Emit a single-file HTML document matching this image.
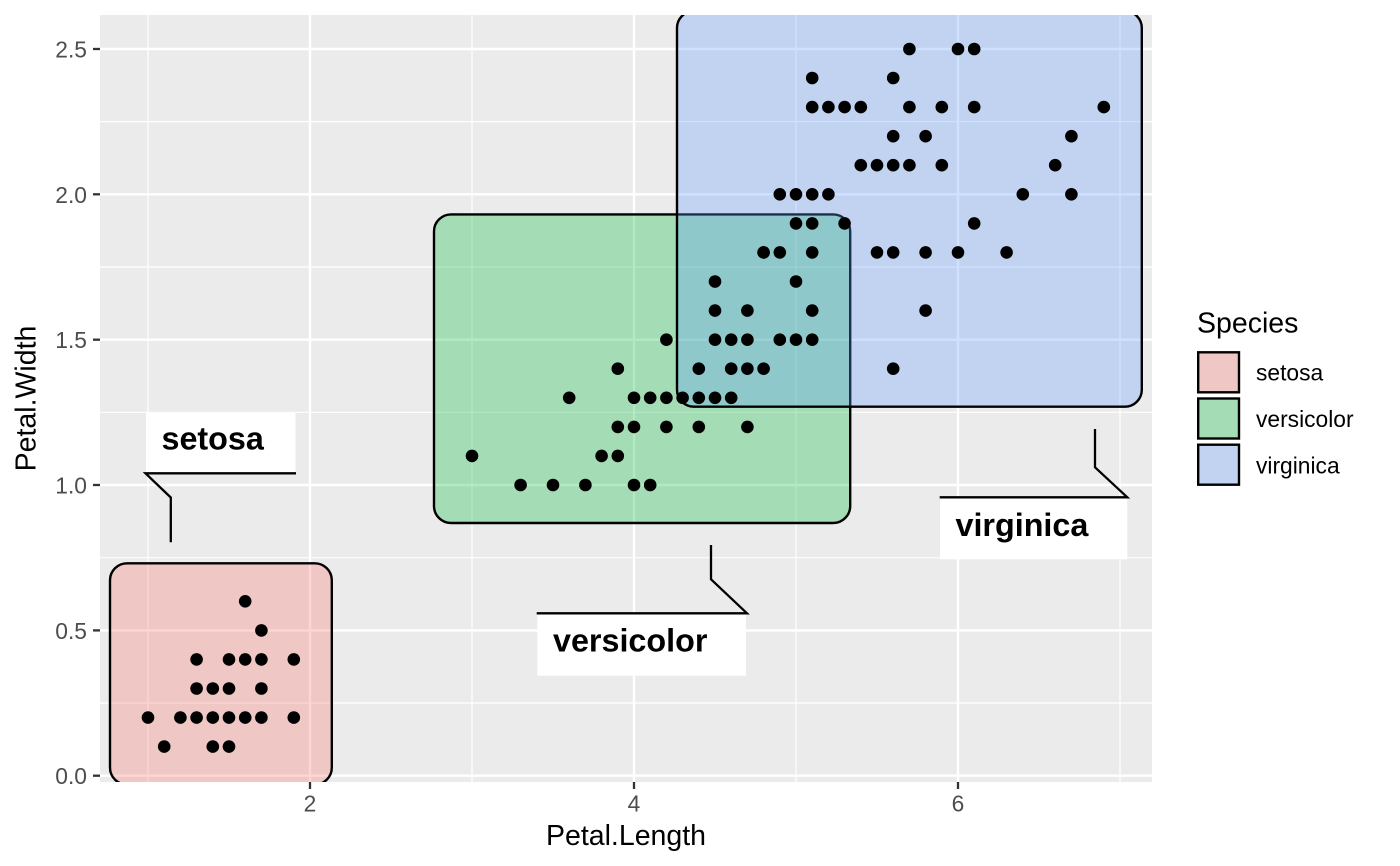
<!DOCTYPE html>
<html>
<head>
<meta charset="utf-8">
<style>
html,body{margin:0;padding:0;background:#fff;}
svg{display:block;}
text{font-family:"Liberation Sans",Arial,sans-serif;}
</style>
</head>
<body>
<svg width="1400" height="866" viewBox="0 0 1400 866" xmlns="http://www.w3.org/2000/svg">
<defs>
<clipPath id="pc"><rect x="100" y="15" width="1052" height="767"/></clipPath>
</defs>
<rect x="0" y="0" width="1400" height="866" fill="#ffffff"/>
<!-- panel -->
<rect x="100" y="15" width="1052" height="767" fill="#EBEBEB"/>
<g stroke="#ffffff" fill="none">
  <g stroke-width="1.2">
    <line x1="148" y1="15" x2="148" y2="782"/>
    <line x1="472" y1="15" x2="472" y2="782"/>
    <line x1="796" y1="15" x2="796" y2="782"/>
    <line x1="1120" y1="15" x2="1120" y2="782"/>
    <line x1="100" y1="703" x2="1152" y2="703"/>
    <line x1="100" y1="557.7" x2="1152" y2="557.7"/>
    <line x1="100" y1="412.3" x2="1152" y2="412.3"/>
    <line x1="100" y1="267" x2="1152" y2="267"/>
    <line x1="100" y1="121.6" x2="1152" y2="121.6"/>
  </g>
  <g stroke-width="2.4">
    <line x1="310" y1="15" x2="310" y2="782"/>
    <line x1="634" y1="15" x2="634" y2="782"/>
    <line x1="958" y1="15" x2="958" y2="782"/>
    <line x1="100" y1="775.7" x2="1152" y2="775.7"/>
    <line x1="100" y1="630.4" x2="1152" y2="630.4"/>
    <line x1="100" y1="485" x2="1152" y2="485"/>
    <line x1="100" y1="339.7" x2="1152" y2="339.7"/>
    <line x1="100" y1="194.3" x2="1152" y2="194.3"/>
    <line x1="100" y1="49" x2="1152" y2="49"/>
  </g>
</g>
<g clip-path="url(#pc)" stroke="#000" stroke-width="2.4">
  <rect x="110" y="563.3" width="221.8" height="221.3" rx="17" ry="17" fill="rgba(248,118,109,0.3)"/>
  <rect x="434" y="214.4" width="416.2" height="308.6" rx="17" ry="17" fill="rgba(0,186,56,0.3)"/>
  <rect x="677" y="11" width="464.8" height="395.7" rx="17" ry="17" fill="rgba(97,156,255,0.3)"/>
</g>
<!-- points -->
<g fill="#000">
<!-- setosa -->
<circle cx="212.8" cy="717.6" r="6.3"/><circle cx="196.6" cy="717.6" r="6.3"/><circle cx="229" cy="717.6" r="6.3"/>
<circle cx="261.4" cy="659.4" r="6.3"/><circle cx="212.8" cy="688.5" r="6.3"/><circle cx="229" cy="746.6" r="6.3"/>
<circle cx="245.2" cy="717.6" r="6.3"/><circle cx="212.8" cy="746.6" r="6.3"/><circle cx="164.2" cy="746.6" r="6.3"/>
<circle cx="180.4" cy="717.6" r="6.3"/><circle cx="229" cy="659.4" r="6.3"/><circle cx="196.6" cy="659.4" r="6.3"/>
<circle cx="261.4" cy="688.5" r="6.3"/><circle cx="229" cy="688.5" r="6.3"/><circle cx="261.4" cy="717.6" r="6.3"/>
<circle cx="148" cy="717.6" r="6.3"/><circle cx="261.4" cy="630.4" r="6.3"/><circle cx="293.8" cy="717.6" r="6.3"/>
<circle cx="245.2" cy="659.4" r="6.3"/><circle cx="196.6" cy="688.5" r="6.3"/><circle cx="245.2" cy="601.3" r="6.3"/>
<circle cx="293.8" cy="659.4" r="6.3"/>
<!-- versicolor -->
<circle cx="747.4" cy="368.7" r="6.3"/><circle cx="715" cy="339.7" r="6.3"/><circle cx="779.8" cy="339.7" r="6.3"/>
<circle cx="634" cy="397.8" r="6.3"/><circle cx="731.2" cy="339.7" r="6.3"/><circle cx="715" cy="397.8" r="6.3"/>
<circle cx="747.4" cy="310.6" r="6.3"/><circle cx="520.6" cy="485" r="6.3"/><circle cx="731.2" cy="397.8" r="6.3"/>
<circle cx="617.8" cy="368.7" r="6.3"/><circle cx="553" cy="485" r="6.3"/><circle cx="666.4" cy="339.7" r="6.3"/>
<circle cx="634" cy="485" r="6.3"/><circle cx="569.2" cy="397.8" r="6.3"/><circle cx="698.8" cy="368.7" r="6.3"/>
<circle cx="650.2" cy="485" r="6.3"/><circle cx="617.8" cy="455.9" r="6.3"/><circle cx="763.6" cy="252.4" r="6.3"/>
<circle cx="747.4" cy="426.9" r="6.3"/><circle cx="682.6" cy="397.8" r="6.3"/><circle cx="763.6" cy="368.7" r="6.3"/>
<circle cx="796" cy="281.5" r="6.3"/><circle cx="601.6" cy="455.9" r="6.3"/><circle cx="585.4" cy="485" r="6.3"/>
<circle cx="617.8" cy="426.9" r="6.3"/><circle cx="812.2" cy="310.6" r="6.3"/><circle cx="715" cy="310.6" r="6.3"/>
<circle cx="747.4" cy="339.7" r="6.3"/><circle cx="698.8" cy="397.8" r="6.3"/><circle cx="650.2" cy="397.8" r="6.3"/>
<circle cx="698.8" cy="426.9" r="6.3"/><circle cx="731.2" cy="368.7" r="6.3"/><circle cx="634" cy="426.9" r="6.3"/>
<circle cx="666.4" cy="397.8" r="6.3"/><circle cx="666.4" cy="426.9" r="6.3"/><circle cx="472" cy="455.9" r="6.3"/>
<!-- virginica -->
<circle cx="958" cy="49" r="6.3"/><circle cx="812.2" cy="223.4" r="6.3"/><circle cx="941.8" cy="165.2" r="6.3"/>
<circle cx="893.2" cy="252.4" r="6.3"/><circle cx="925.6" cy="136.2" r="6.3"/><circle cx="1055.2" cy="165.2" r="6.3"/>
<circle cx="715" cy="281.5" r="6.3"/><circle cx="1006.6" cy="252.4" r="6.3"/><circle cx="925.6" cy="252.4" r="6.3"/>
<circle cx="974.2" cy="49" r="6.3"/><circle cx="812.2" cy="194.3" r="6.3"/><circle cx="844.6" cy="223.4" r="6.3"/>
<circle cx="877" cy="165.2" r="6.3"/><circle cx="796" cy="194.3" r="6.3"/><circle cx="812.2" cy="78" r="6.3"/>
<circle cx="844.6" cy="107.1" r="6.3"/><circle cx="877" cy="252.4" r="6.3"/><circle cx="1071.4" cy="136.2" r="6.3"/>
<circle cx="1103.8" cy="107.1" r="6.3"/><circle cx="796" cy="339.7" r="6.3"/><circle cx="909.4" cy="107.1" r="6.3"/>
<circle cx="779.8" cy="194.3" r="6.3"/><circle cx="1071.4" cy="194.3" r="6.3"/><circle cx="779.8" cy="252.4" r="6.3"/>
<circle cx="909.4" cy="165.2" r="6.3"/><circle cx="958" cy="252.4" r="6.3"/><circle cx="763.6" cy="252.4" r="6.3"/>
<circle cx="893.2" cy="165.2" r="6.3"/><circle cx="925.6" cy="310.6" r="6.3"/><circle cx="974.2" cy="223.4" r="6.3"/>
<circle cx="1022.8" cy="194.3" r="6.3"/><circle cx="893.2" cy="136.2" r="6.3"/><circle cx="812.2" cy="339.7" r="6.3"/>
<circle cx="893.2" cy="368.7" r="6.3"/><circle cx="974.2" cy="107.1" r="6.3"/><circle cx="893.2" cy="78" r="6.3"/>
<circle cx="860.8" cy="165.2" r="6.3"/><circle cx="828.4" cy="107.1" r="6.3"/><circle cx="941.8" cy="107.1" r="6.3"/>
<circle cx="909.4" cy="49" r="6.3"/><circle cx="860.8" cy="107.1" r="6.3"/><circle cx="796" cy="223.4" r="6.3"/>
<circle cx="828.4" cy="194.3" r="6.3"/><circle cx="812.2" cy="252.4" r="6.3"/><circle cx="812.2" cy="107.1" r="6.3"/>
</g>
<!-- labels -->
<g>
  <rect x="146" y="413" width="149.5" height="60" fill="#ffffff"/>
  <text x="161.5" y="449.3" font-size="32.3" font-weight="bold" fill="#000">setosa</text>
  <polyline points="296,473.3 145.5,473.3 170.8,497.5 170.8,542.3" fill="none" stroke="#000" stroke-width="2.3"/>

  <rect x="537.3" y="613.3" width="208.7" height="62.4" fill="#ffffff"/>
  <text x="553" y="651.7" font-size="32.3" font-weight="bold" fill="#000">versicolor</text>
  <polyline points="536.7,613.3 747,613.3 711,579.3 711,545" fill="none" stroke="#000" stroke-width="2.3"/>

  <rect x="940" y="497.3" width="187.3" height="62" fill="#ffffff"/>
  <text x="955.5" y="536" font-size="32.3" font-weight="bold" fill="#000">virginica</text>
  <polyline points="939.7,497.3 1127.3,497.3 1095,467.3 1095,429" fill="none" stroke="#000" stroke-width="2.3"/>
</g>
<!-- axes ticks -->
<g stroke="#333333" stroke-width="2.3">
  <line x1="93" y1="775.7" x2="100" y2="775.7"/>
  <line x1="93" y1="630.4" x2="100" y2="630.4"/>
  <line x1="93" y1="485" x2="100" y2="485"/>
  <line x1="93" y1="339.7" x2="100" y2="339.7"/>
  <line x1="93" y1="194.3" x2="100" y2="194.3"/>
  <line x1="93" y1="49" x2="100" y2="49"/>
  <line x1="310" y1="782" x2="310" y2="789"/>
  <line x1="634" y1="782" x2="634" y2="789"/>
  <line x1="958" y1="782" x2="958" y2="789"/>
</g>
<g font-size="22.8" fill="#4D4D4D" text-anchor="end">
  <text x="87" y="784.2">0.0</text>
  <text x="87" y="638.9">0.5</text>
  <text x="87" y="493.5">1.0</text>
  <text x="87" y="348.2">1.5</text>
  <text x="87" y="202.8">2.0</text>
  <text x="87" y="57.5">2.5</text>
</g>
<g font-size="22.8" fill="#4D4D4D" text-anchor="middle">
  <text x="310" y="811.7">2</text>
  <text x="634" y="811.7">4</text>
  <text x="958" y="811.7">6</text>
</g>
<text x="626" y="845" font-size="28.5" text-anchor="middle" fill="#000">Petal.Length</text>
<text x="0" y="0" font-size="28.5" text-anchor="middle" fill="#000" transform="translate(35.5,398.5) rotate(-90)">Petal.Width</text>
<!-- legend -->
<text x="1197" y="332.3" font-size="28.5" fill="#000">Species</text>
<g stroke="#000" stroke-width="2.4">
  <rect x="1198.2" y="352.3" width="40.8" height="40" fill="#EFC7C5"/>
  <rect x="1198.2" y="398.5" width="40.8" height="40" fill="#A4DCB5"/>
  <rect x="1198.2" y="444.7" width="40.8" height="40" fill="#C2D3F1"/>
</g>
<g font-size="22.8" fill="#000">
  <text x="1256" y="380.7">setosa</text>
  <text x="1256" y="427">versicolor</text>
  <text x="1256" y="473.3">virginica</text>
</g>
</svg>
</body>
</html>
